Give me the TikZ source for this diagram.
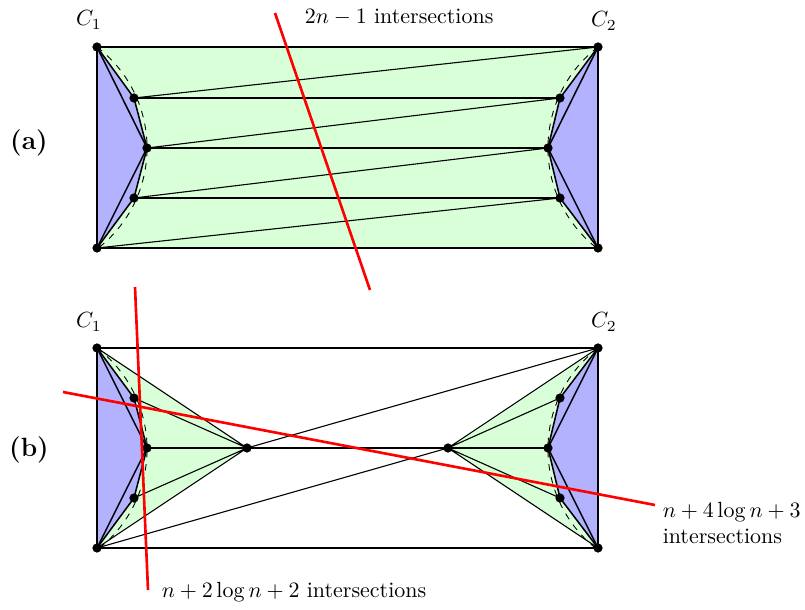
\documentclass[tikz,border=0pt]{standalone}
\usepackage{amsmath}
\usepackage{tikz}
\usetikzlibrary{calc}

\begin{document}
\begin{tikzpicture}[
  x=0.455pt, y=-0.455pt,
  edge/.style={black, line width=0.5pt},
  hull/.style={fill=blue!30, draw=black, line width=0.7pt},
  face/.style={fill=green!15},
  arcline/.style={dashed, line width=0.4pt},
  cut/.style={red, line width=1.2pt},
  tag/.style={font=\large\bfseries},
  dot/.style={fill=black}
]
\useasboundingbox (0,0) rectangle (805,610);
% ---------------- (a): points
\coordinate (aTL) at (97,47);
\coordinate (aBL) at (97,248);
\coordinate (aTR) at (598,47);
\coordinate (aBR) at (598,248);
\coordinate (aL1) at (134,98);
\coordinate (aL2) at (147,148);
\coordinate (aL3) at (134,198);
\coordinate (aR1) at (560,98);
\coordinate (aR2) at (548,148);
\coordinate (aR3) at (560,198);
% ---------------- (a): faces
\fill[face] (aTL) rectangle (aBR);
\draw[hull] (aTL) -- (aL1) -- (aL2) -- (aL3) -- (aBL) -- cycle;
\draw[hull] (aTR) -- (aR1) -- (aR2) -- (aR3) -- (aBR) -- cycle;
\draw[arcline] (aTL) arc[start angle=-52.7, end angle=52.7, radius=127];
\draw[arcline] (aTR) arc[start angle=232.7, end angle=127.3, radius=127];
% ---------------- (a): edges
\draw[edge] (aTL) -- (aTR) (aBL) -- (aBR) (aTL) -- (aBL) (aTR) -- (aBR);
\draw[edge] (aL1) -- (aR1) (aL2) -- (aR2) (aL3) -- (aR3);
\draw[edge] (aTR) -- (aL1) (aR1) -- (aL2) (aR2) -- (aL3) (aR3) -- (aBL);
\draw[hull, fill=none] (aTL) -- (aL2) -- (aBL) (aTR) -- (aR2) -- (aBR);
\foreach \p in {aTL,aBL,aTR,aBR,aL1,aL2,aL3,aR1,aR2,aR3}
  \fill[dot] (\p) circle (2.1pt);
% ---------------- (b): points
\coordinate (bTL) at (97,348);
\coordinate (bBL) at (97,548);
\coordinate (bTR) at (598,348);
\coordinate (bBR) at (598,548);
\coordinate (bL1) at (134,398);
\coordinate (bL2) at (147,448);
\coordinate (bL3) at (134,498);
\coordinate (bR1) at (560,398);
\coordinate (bR2) at (548,448);
\coordinate (bR3) at (560,498);
\coordinate (bM1) at (247,448);
\coordinate (bM2) at (448,448);
% ---------------- (b): faces
\fill[face] (bTL) -- (bM1) -- (bBL) -- cycle;
\fill[face] (bTR) -- (bM2) -- (bBR) -- cycle;
\draw[hull] (bTL) -- (bL1) -- (bL2) -- (bL3) -- (bBL) -- cycle;
\draw[hull] (bTR) -- (bR1) -- (bR2) -- (bR3) -- (bBR) -- cycle;
\draw[arcline] (bTL) arc[start angle=-52.7, end angle=52.7, radius=127];
\draw[arcline] (bTR) arc[start angle=232.7, end angle=127.3, radius=127];
% ---------------- (b): edges
\draw[edge] (bTL) -- (bTR) (bBL) -- (bBR) (bTL) -- (bBL) (bTR) -- (bBR);
\draw[edge] (bL2) -- (bR2);
\draw[edge] (bTL) -- (bM1) (bL1) -- (bM1) (bL3) -- (bM1) (bBL) -- (bM1);
\draw[edge] (bTR) -- (bM2) (bR1) -- (bM2) (bR3) -- (bM2) (bBR) -- (bM2);
\draw[edge] (bM1) -- (bTR) (bBL) -- (bM2);
\draw[hull, fill=none] (bTL) -- (bL2) -- (bBL) (bTR) -- (bR2) -- (bBR);
\foreach \p in {bTL,bBL,bTR,bBR,bL1,bL2,bL3,bR1,bR2,bR3,bM1,bM2}
  \fill[dot] (\p) circle (2.1pt);
% ---------------- labels
\node (tA) [tag] at (29,143) {(a)};
\node (tB) [tag] at (29,450) {(b)};
\node (aC1) at (89,20) {$C_1$};
\node (aC2) at (604,21) {$C_2$};
\node (bC1) at (89,322) {$C_1$};
\node (bC2) at (604,322) {$C_2$};
% ---------------- cuts
\coordinate (c1s) at (275,13);
\coordinate (c1e) at (370,290);
\coordinate (c2s) at (135,287);
\coordinate (c2e) at (148,590);
\coordinate (c3s) at (63,392);
\coordinate (c3e) at (655,505);
\draw[cut] (c1s) -- (c1e);
\draw[cut] (c2s) -- (c2e);
\draw[cut] (c3s) -- (c3e);
\node (n1) [anchor=west] at (297,17) {$2n-1$ intersections};
\node (n2) [anchor=west] at (154,592) {$n+2\log n+2$ intersections};
\node (n3) [anchor=west, align=left] at (655,523) {$n+4\log n+3$\\intersections};
\end{tikzpicture}
\end{document}
